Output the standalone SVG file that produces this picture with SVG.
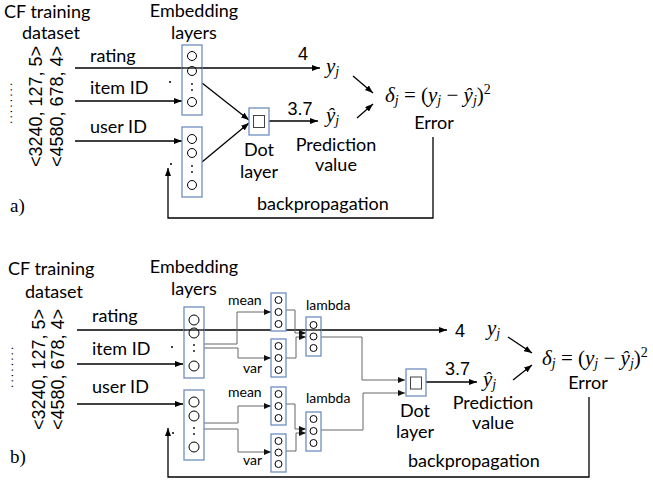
<svg xmlns="http://www.w3.org/2000/svg" width="653" height="485" viewBox="0 0 653 485">
<defs>
<marker id="ah" markerWidth="8" markerHeight="6" refX="8" refY="3" orient="auto" markerUnits="userSpaceOnUse"><path d="M0,0 L8,3 L0,6 z" fill="#000"/></marker>
<marker id="ag" markerWidth="7" markerHeight="6" refX="7" refY="3" orient="auto" markerUnits="userSpaceOnUse"><path d="M0,0 L7,3 L0,6 z" fill="#111"/></marker>
</defs>
<style>
.t{font-family:Lato,"Noto Sans",sans-serif;font-size:18px;fill:#000}
.s{font-family:Lato,"Noto Sans",sans-serif;font-size:14px;fill:#000}
.n{font-family:"Liberation Sans",Arial,sans-serif;font-size:18px;fill:#000}
.d{font-family:"Liberation Sans",Arial,sans-serif;font-size:12px;letter-spacing:2.1px;fill:#000}
.m{font-family:"Liberation Serif","Times New Roman",serif;font-size:21px;fill:#000}
.i{font-style:italic}
.lab{font-family:"Liberation Serif","Times New Roman",serif;font-size:19px;fill:#000}
.box{fill:#fff;stroke:#6f8ec0;stroke-width:1.3}
.c{fill:none;stroke:#000;stroke-width:1}
.sq{fill:#fff;stroke:#444;stroke-width:1}
.dt{fill:#000}
.ln{fill:none;stroke:#000;stroke-width:1.3}
.g{fill:none;stroke:#666;stroke-width:1}
.mid{text-anchor:middle}
</style>

<!-- ===== Part a ===== -->
<g id="a-labels">
<text class="t" x="4" y="18">CF training</text>
<text class="t" x="22" y="39">dataset</text>
<text class="t mid" x="194" y="17">Embedding</text>
<text class="t mid" x="194" y="39">layers</text>
<text class="n" transform="translate(42,167) rotate(-90)">&lt;3240, 127, 5&gt;</text>
<text class="n" transform="translate(63,167) rotate(-90)">&lt;4580, 678, 4&gt;</text>
<text class="d" transform="translate(12,124) rotate(-90)">........</text>
<text class="lab" x="10" y="212">a)</text>
</g>
<g id="a-inputs">
<text class="t" x="90" y="62">rating</text>
<text class="t" x="90" y="94">item ID</text>
<text class="t" x="90" y="133">user ID</text>
</g>

<g id="a-connectors">
<path class="ln" d="M75,68 H320" marker-end="url(#ah)"/>
<path class="ln" d="M75,101 H182" marker-end="url(#ah)"/>
<path class="ln" d="M75,141 H182" marker-end="url(#ah)"/>
<path class="ln" d="M202,83 L249,120" marker-end="url(#ah)"/>
<path class="ln" d="M202,162 L249,123" marker-end="url(#ah)"/>
<path class="ln" d="M269,121 H318" marker-end="url(#ah)"/>
<path class="ln" d="M353,76 L373,93" marker-end="url(#ah)"/>
<path class="ln" d="M357,118 L373,104" marker-end="url(#ah)"/>
<path class="ln" d="M433,137 V218 H168 V168" marker-end="url(#ah)"/>
<circle class="dt" cx="170" cy="82" r="1"/>
<circle class="dt" cx="171" cy="164" r="1"/>
</g>

<g id="a-emb-item">
<rect class="box" x="182" y="45" width="20" height="70"/>
<circle class="c" cx="192" cy="56" r="4.5"/>
<circle class="c" cx="192" cy="71" r="4.5"/>
<circle class="dt" cx="192" cy="84" r="0.9"/>
<circle class="dt" cx="192" cy="90" r="0.9"/>
<circle class="c" cx="192" cy="102" r="4.5"/>
</g>
<path class="ln" d="M182,68 H202"/>

<g id="a-emb-user">
<rect class="box" x="182" y="127" width="20" height="70"/>
<circle class="c" cx="192" cy="139" r="4.5"/>
<circle class="c" cx="192" cy="153" r="4.5"/>
<circle class="dt" cx="192" cy="166" r="0.9"/>
<circle class="dt" cx="192" cy="172" r="0.9"/>
<circle class="c" cx="192" cy="185" r="4.5"/>
</g>

<g id="a-dot">
<rect class="box" x="249" y="108" width="20" height="27"/>
<rect class="sq" x="253.5" y="115.5" width="11" height="12"/>
<text class="t mid" x="259" y="156">Dot</text>
<text class="t mid" x="259" y="178">layer</text>
</g>

<g id="a-values">
<text class="n mid" x="303" y="60">4</text>
<text class="n mid" x="300" y="115">3.7</text>
<text class="m" x="326" y="73"><tspan class="i">y</tspan><tspan class="i" font-size="14" dy="3">j</tspan></text>
<text class="m" x="326" y="122"><tspan class="i">ŷ</tspan><tspan class="i" font-size="14" dy="3">j</tspan></text>
<text class="t mid" x="336" y="151">Prediction</text>
<text class="t mid" x="336" y="171">value</text>
</g>

<g id="a-error">
<text class="m" x="385" y="102"><tspan class="i">δ</tspan><tspan class="i" font-size="14" dy="3">j</tspan><tspan dy="-3"> = (</tspan><tspan class="i">y</tspan><tspan class="i" font-size="14" dy="3">j</tspan><tspan dy="-3"> − </tspan><tspan class="i">ŷ</tspan><tspan class="i" font-size="14" dy="3">j</tspan><tspan dy="-3">)</tspan><tspan font-size="14" dy="-8">2</tspan></text>
<text class="t mid" x="434" y="129">Error</text>
<text class="t" x="257" y="210">backpropagation</text>
</g>

<!-- ===== Part b ===== -->
<g id="b-labels">
<text class="t" x="8" y="275">CF training</text>
<text class="t" x="25" y="298">dataset</text>
<text class="t mid" x="194" y="273">Embedding</text>
<text class="t mid" x="194" y="295">layers</text>
<text class="n" transform="translate(45,430) rotate(-90)">&lt;3240, 127, 5&gt;</text>
<text class="n" transform="translate(64,430) rotate(-90)">&lt;4580, 678, 4&gt;</text>
<text class="d" transform="translate(13,388) rotate(-90)">........</text>
<text class="t" x="92" y="322">rating</text>
<text class="t" x="92" y="355">item ID</text>
<text class="t" x="92" y="393">user ID</text>
<text class="lab" x="10" y="463">b)</text>
</g>

<g id="b-connectors">
<path class="ln" d="M77,330 H447" marker-end="url(#ah)"/>
<path class="ln" d="M77,364 H183" marker-end="url(#ah)"/>
<path class="ln" d="M77,404 H183" marker-end="url(#ah)"/>
<path class="g" d="M204,344 H237 V312 H271" marker-end="url(#ag)"/>
<path class="g" d="M204,348 H238 V358 H271" marker-end="url(#ag)"/>
<path class="g" d="M286,310 H295 V333 H306" marker-end="url(#ag)"/>
<path class="g" d="M286,358 H296 V337 H306" marker-end="url(#ag)"/>
<path class="g" d="M321,337 H362 V380 H405" marker-end="url(#ag)"/>
<path class="g" d="M204,423 H238 V406 H271" marker-end="url(#ag)"/>
<path class="g" d="M204,429 H238 V452 H271" marker-end="url(#ag)"/>
<path class="g" d="M286,404 H295 V429 H306" marker-end="url(#ag)"/>
<path class="g" d="M286,451 H296 V433 H306" marker-end="url(#ag)"/>
<path class="g" d="M321,430 H363 V393 H405" marker-end="url(#ag)"/>
<path class="ln" d="M426,382 H477" marker-end="url(#ah)"/>
<path class="ln" d="M508,337 L532,353" marker-end="url(#ah)"/>
<path class="ln" d="M513,380 L532,365" marker-end="url(#ah)"/>
<path class="ln" d="M589,397 V477 H168 V428" marker-end="url(#ah)"/>
<circle class="dt" cx="172" cy="347" r="1"/>
<circle class="dt" cx="173" cy="433" r="1"/>
</g>

<g id="b-emb-item">
<rect class="box" x="184" y="307" width="20" height="71"/>
<circle class="c" cx="194" cy="320" r="5"/>
<circle class="c" cx="194" cy="333" r="5"/>
<circle class="dt" cx="194" cy="345" r="0.9"/>
<circle class="dt" cx="194" cy="351" r="0.9"/>
<circle class="c" cx="194" cy="366" r="5"/>
</g>
<path class="ln" d="M184,330 H204"/>

<g id="b-emb-user">
<rect class="box" x="184" y="390" width="20" height="70"/>
<circle class="c" cx="194" cy="402" r="5"/>
<circle class="c" cx="194" cy="416" r="5"/>
<circle class="dt" cx="194" cy="428" r="0.9"/>
<circle class="dt" cx="194" cy="434" r="0.9"/>
<circle class="c" cx="194" cy="447" r="5"/>
</g>

<g id="b-mean1">
<rect class="box" x="271" y="293" width="15" height="38"/>
<circle class="c" cx="278.5" cy="300" r="3.5"/>
<circle class="c" cx="278.5" cy="312" r="3.5"/>
<circle class="c" cx="278.5" cy="324" r="3.5"/>
<text class="s" x="228" y="305">mean</text>
</g>
<g id="b-var1">
<rect class="box" x="271" y="339" width="15" height="38"/>
<circle class="c" cx="278.5" cy="346" r="3.5"/>
<circle class="c" cx="278.5" cy="358" r="3.5"/>
<circle class="c" cx="278.5" cy="370" r="3.5"/>
<text class="s" x="243" y="373">var</text>
</g>
<g id="b-lambda1">
<rect class="box" x="306" y="317" width="15" height="39"/>
<circle class="c" cx="313.5" cy="325" r="3.5"/>
<circle class="c" cx="313.5" cy="336.5" r="3.5"/>
<circle class="c" cx="313.5" cy="348" r="3.5"/>
<text class="s" x="306" y="310">lambda</text>
</g>
<path class="ln" d="M306,330 H321"/>
<g id="b-mean2">
<rect class="box" x="271" y="387" width="15" height="38"/>
<circle class="c" cx="278.5" cy="394" r="3.5"/>
<circle class="c" cx="278.5" cy="406" r="3.5"/>
<circle class="c" cx="278.5" cy="418" r="3.5"/>
<text class="s" x="228" y="397">mean</text>
</g>
<g id="b-var2">
<rect class="box" x="271" y="434" width="15" height="38"/>
<circle class="c" cx="278.5" cy="441" r="3.5"/>
<circle class="c" cx="278.5" cy="452.5" r="3.5"/>
<circle class="c" cx="278.5" cy="464" r="3.5"/>
<text class="s" x="243" y="465">var</text>
</g>
<g id="b-lambda2">
<rect class="box" x="306" y="412" width="15" height="39"/>
<circle class="c" cx="313.5" cy="419" r="3.5"/>
<circle class="c" cx="313.5" cy="431" r="3.5"/>
<circle class="c" cx="313.5" cy="443" r="3.5"/>
<text class="s" x="306" y="403">lambda</text>
</g>

<g id="b-dot">
<rect class="box" x="406" y="369" width="20" height="27"/>
<rect class="sq" x="410.5" y="377" width="11" height="12"/>
<text class="t mid" x="415" y="417">Dot</text>
<text class="t mid" x="415" y="438">layer</text>
</g>

<g id="b-values">
<text class="n" x="455" y="337">4</text>
<text class="n" x="445" y="375">3.7</text>
<text class="m" x="487" y="335"><tspan class="i">y</tspan><tspan class="i" font-size="14" dy="3">j</tspan></text>
<text class="m" x="483" y="386"><tspan class="i">ŷ</tspan><tspan class="i" font-size="14" dy="3">j</tspan></text>
<text class="t mid" x="493" y="409">Prediction</text>
<text class="t mid" x="493" y="429">value</text>
</g>

<g id="b-error">
<text class="m" x="542" y="365"><tspan class="i">δ</tspan><tspan class="i" font-size="14" dy="3">j</tspan><tspan dy="-3"> = (</tspan><tspan class="i">y</tspan><tspan class="i" font-size="14" dy="3">j</tspan><tspan dy="-3"> − </tspan><tspan class="i">ŷ</tspan><tspan class="i" font-size="14" dy="3">j</tspan><tspan dy="-3">)</tspan><tspan font-size="14" dy="-8">2</tspan></text>
<text class="t mid" x="588" y="389">Error</text>
<text class="t" x="408" y="467">backpropagation</text>
</g>
</svg>
